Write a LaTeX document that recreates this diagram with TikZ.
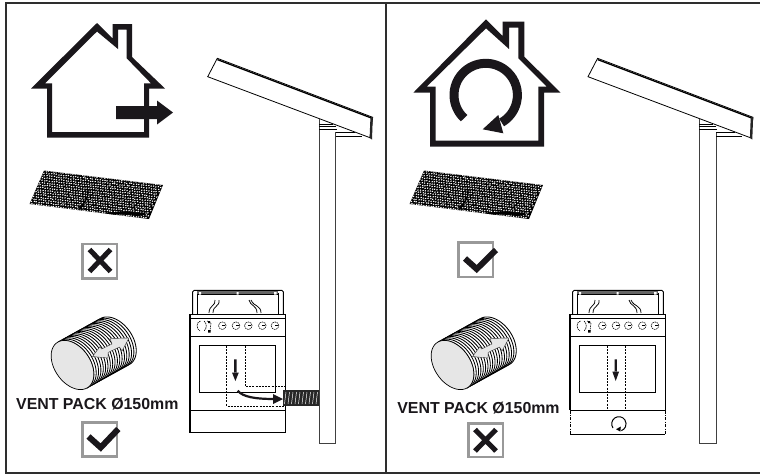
\documentclass[tikz,border=0pt]{standalone}
\usepackage{fontspec}
\setmainfont{Liberation Sans}
\usetikzlibrary{arrows.meta}
\definecolor{framec}{HTML}{2E2E2E}
\definecolor{boxc}{HTML}{999999}
\definecolor{facec}{HTML}{E6E6E6}
\definecolor{housec}{HTML}{1A171B}
\tikzset{
  framest/.style={draw=framec,line width=1.9pt},
  boxst/.style={draw=boxc,line width=2.4pt},
  markst/.style={draw=housec,line width=5pt},
  checkst/.style={draw=housec,line width=6pt},
  duct/.style={draw=black,line width=.8pt,dash pattern=on 2pt off 1.2pt},
  ventlabel/.style={font=\bfseries\fontsize{15.9}{18}\selectfont,text=housec,inner sep=0pt},
}
\newcommand{\meshpatchdraw}{%
  \fill[black] (44,170.5) -- (163,185) -- (149,219) -- (29.5,204) -- cycle;
  \begin{scope}
    \clip (44,170.5) -- (163,185) -- (149,219) -- (29.5,204) -- cycle;
  \begin{scope}[shift={(44,170.5)},x={(2.43pt,-.296pt)},y={(-1.04pt,-2.36pt)}]
    \pgfmathsetseed{42}
    \fill[white] \foreach \i in {0,...,48} {\foreach \j in {0,...,14} {
      ({\i+.5*mod(\j,2)+.15*rand},{\j+.15*rand}) circle[radius=.33]
    }};
    \fill[black] (20,6) .. controls (22,8) and (21,11) .. (20,14) -- (21,14) .. controls (22,9) .. (21,6) -- cycle;
    \fill[black] (31,14) .. controls (38,12.5) and (42,12.5) .. (47,12) -- (47,13) .. controls (41,13.5) and (37,14) .. (33,14.7) -- cycle;
  \end{scope}
  \end{scope}
}
\newcommand{\panelpost}{%
  \draw[line width=.8pt,fill=white,line join=miter] (217.3,58.3) -- (372.7,117.3) -- (370,137.7) -- (207.7,76.7) -- cycle;
  \draw[line width=1.3pt] (217.4,59.6) -- (372.4,118.4);
  \fill[black!85] (370.4,118) -- (372.8,117.2) -- (372,139.5) -- (369.6,138) -- cycle;
  \draw[draw=black!75,line width=.9pt] (319,119.3) -- (319,443) -- (335.7,443) -- (335.7,132.3);
  \draw[line width=.6pt] (319,124) -- (333,124) (319,126) -- (336,126) (319,129) -- (336.7,129)
    (335.7,132.3) -- (355,132.3) (335.7,136.7) -- (361.7,136.7);
}
\newcommand{\cylinderpic}{%
  \begin{scope}[shift={(72.5,365)},x={(14.5pt,-23pt)},y={(15.7pt,8.7pt)}]
    \foreach \k in {0,.15,...,2.71} {
      \draw[line width=.85pt] plot[domain=0:180,samples=25,smooth] ({cos(\x)},{sin(\x)+\k});
    }
    \draw[line width=.7pt] (1,0) -- (1,2.7) (-1,0) -- (-1,2.7);
    \draw[line width=.7pt,fill=facec] plot[domain=0:360,samples=49,smooth] ({cos(\x)},{sin(\x)}) -- cycle;
  \end{scope}
  \fill[facec,draw=black!80,line width=.4pt] (92.5,356.5) -- (100,346.5) -- (101.5,349) -- (112,344) -- (110,338.5) -- (129,338) -- (122,351) -- (119.5,347) -- (108,352.5) -- (108,358) -- cycle;
}
\newcommand{\knobmark}[1]{%
  \draw[line width=.55pt,dash pattern=on 1.6pt off .7pt] (#1,325.7) circle[radius=3.8pt];
  \draw[line width=.6pt] (#1,325.7) -- ++(2.6,0);
}
\newcommand{\stovecommon}{%
  \draw[line width=1pt,rounded corners=1.5pt] (192.7,314) -- (192.7,290.3) -- (283.3,290.3) -- (283.3,314);
  \draw[line width=.8pt] (197.3,314) -- (197.3,293) (278.3,293) -- (278.3,314);
  \fill[black!60] (197.3,291.2) rectangle (278.3,295.3);
  \fill[black] (196.8,293.8) rectangle (278.8,294.8);
  \fill[white] (199,292) rectangle (201,294.5) (236.5,292) rectangle (238.5,294.5) (274,292) rectangle (276.5,294.5);
  \draw[line width=.75pt] (209,313) .. controls (209,305) and (216,306) .. (215,300)
                          (213,313) .. controls (213,305) and (220,307) .. (219,300)
                          (261,313) .. controls (261,305) and (254,307) .. (251,300)
                          (257,313) .. controls (257,305) and (250,306) .. (249,300);
  \fill[white] (190,314) rectangle (285.3,337);
  \draw[line width=.9pt] (190,318) -- (285.3,318) (190,314) -- (285.3,314) (190,336.7) -- (285.3,336.7);
  \draw[line width=1pt] (199.3,345.3) rectangle (275.3,392.7);
  \draw[line width=.6pt,dash pattern=on 1.6pt off .7pt]
     (200.5,321) .. controls (196,322) and (196,329) .. (200,331)
     (204,321) .. controls (207,323) and (207,329) .. (204,331)
     (207,321) .. controls (210,322) and (210,322) .. (210,323)
     (211,323) -- (210,331);
  \fill[black] (208,330) rectangle (210.5,332.5) (208,321) rectangle (210,323);
  \knobmark{222.3}\knobmark{236}\knobmark{248.3}\knobmark{262.3}\knobmark{275}
}
\begin{document}
\begin{tikzpicture}[x=1pt,y=-1pt,line join=miter]
\useasboundingbox (0,0) rectangle (760,475);
\fill[white] (0,0) rectangle (760,475);
% frame
\draw[framest] (760,2.6) -- (6,2.6) -- (6,473.2) -- (760,473.2);
\draw[framest] (386,2.6) -- (386,473.2);
% left house
\fill[housec,even odd rule]
  (97,23) -- (112.7,38.5) -- (112.7,24) -- (132,24) -- (132,57) -- (165,88.5) -- (149,88.5) -- (149,137.5) -- (47,137.5) -- (47,88.5) -- (31,88.5) -- cycle
  (97,31.5) -- (45,83.3) -- (52,83.3) -- (52,132) -- (144,132) -- (144,83.3) -- (151,83.3) -- (126.7,58.3) -- (126.7,29.5) -- (118,29.5) -- (118,49) -- cycle;
\fill[housec] (116,106) -- (157,106) -- (157,100.5) -- (173,112.5) -- (157,124.5) -- (157,119) -- (116,119) -- cycle;
% right house
\fill[housec,even odd rule]
  (486,19.3) -- (502.7,36) -- (502.7,21.7) -- (524.3,21.7) -- (524.3,56.7) -- (560.7,92.7) -- (544,92.7) -- (544,146.7) -- (430,146.7) -- (430,92.7) -- (413.3,92.7) -- cycle
  (486,28.3) -- (426.7,86.7) -- (435.7,86.7) -- (435.7,140.7) -- (538.3,140.7) -- (538.3,86.7) -- (546.7,86.7) -- (518.3,58.3) -- (518.3,27.7) -- (509,27.7) -- (509,49) -- cycle;
\draw[housec,line width=9pt] (464.1,118.2) arc[start angle=227,end angle=-60,radius=31.7pt];
\fill[housec] (498.3,115) -- (503.3,133.3) -- (482.7,129.3) -- cycle;
% meshes
\meshpatchdraw
\begin{scope}[shift={(380,0)}]\meshpatchdraw\end{scope}
% panels and posts
\panelpost
\begin{scope}[shift={(380.3,0)}]\panelpost\end{scope}
% tick boxes
\draw[boxst] (82.5,244) rectangle (116.7,278.5);
\draw[markst] (89.5,249.5) -- (110.5,271.5) (110.5,249.5) -- (89.5,271.5);
\draw[boxst] (82.5,422.5) rectangle (116.7,456.5);
\draw[checkst] (88.5,436.5) -- (100.7,447.5) -- (118.3,429);
\draw[boxst] (458.5,242.5) rectangle (492.7,276.7);
\draw[checkst] (465,258.5) -- (476.7,269) -- (496,250);
\draw[boxst] (468.5,423.5) rectangle (502.7,456.7);
\draw[markst] (475,429.5) -- (496,451) (496,429.5) -- (475,451);
% vent packs
\cylinderpic
\begin{scope}[shift={(380,0)}]\cylinderpic\end{scope}
\node[ventlabel] (ventL) at (97.3,404.5) {VENT PACK Ø150mm};
\node[ventlabel] (ventR) at (478.5,407.7) {VENT PACK Ø150mm};
% left stove
\stovecommon
\draw[line width=1.2pt] (190,314) -- (190,432.3) -- (285.3,432.3) -- (285.3,314);
\draw[line width=.9pt] (190,410.7) -- (285.3,410.7);
\draw[duct] (226.7,346) -- (226.7,406) -- (285,406) (245,346) -- (245,386.7) -- (285,386.7);
\fill[housec] (234.2,359.3) rectangle (236.6,373) (232,372.5) -- (238.8,372.5) -- (235.4,381) -- cycle;
\draw[housec,line width=2.2pt] (237.7,390.7) .. controls (243,397) and (255,399) .. (275,399);
\fill[housec] (273,394) -- (283,399) -- (273,404) -- cycle;
\fill[black!85] (283.3,390) rectangle (319,406);
\foreach \q in {286,289.5,...,318} {\draw[white,line width=.45pt] (\q,392) -- (\q-1.5,404);}
% right stove
\begin{scope}[shift={(380,0)}]
\stovecommon
\draw[line width=1.2pt] (190,314) -- (190,410) (285.3,314) -- (285.3,410);
\draw[line width=.9pt] (190,410) -- (285.3,410);
\draw[line width=.8pt,dash pattern=on 3.5pt off 1.2pt on 1pt off 1.2pt] (190,410) -- (190,434);
\draw[line width=.8pt,dash pattern=on 3.5pt off 1.2pt on 1pt off 1.2pt] (285.3,410) -- (285.3,434);
\draw[line width=.9pt] (190,434) -- (285.3,434);
\draw[duct] (227.3,346) -- (227.3,409.5) (245.3,346) -- (245.3,409.5);
\fill[housec] (234.5,359.3) rectangle (236.9,372) (232.3,371.5) -- (239.1,371.5) -- (235.7,381) -- cycle;
\draw[line width=1pt] (233,428) arc[start angle=215,end angle=-70,radius=7.2pt];
\fill[black] (240.8,426.6) -- (240.4,431.6) -- (236,429.2) -- cycle;
\end{scope}
\end{tikzpicture}
\end{document}
